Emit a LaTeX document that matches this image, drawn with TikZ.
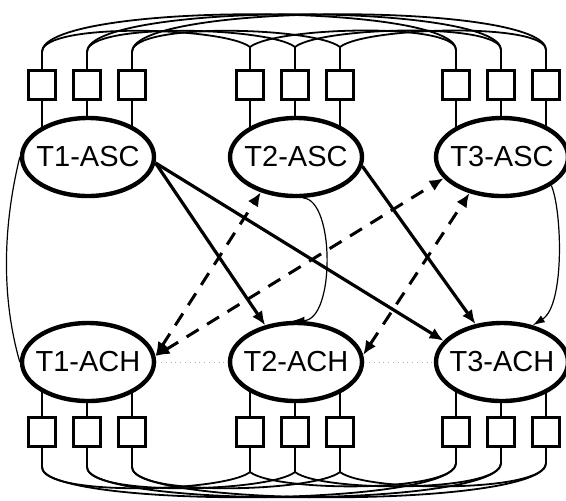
\documentclass[tikz,border=0pt]{standalone}
\usepackage{fontspec}
\setmainfont{Liberation Sans}
\usetikzlibrary{shapes,arrows,arrows.meta,positioning,calc}

\begin{document}
\begin{tikzpicture}[x=0.5pt,y=-0.5pt,
    agent/.style={draw,ellipse,fill=white,line width=2.2pt,minimum width=66pt,minimum height=39pt,inner xsep=-4pt,inner ysep=0pt,font=\fontsize{14.5}{17}\selectfont},
    port/.style={draw,rectangle,fill=white,line width=1.5pt,minimum width=13.5pt,minimum height=14.5pt,inner sep=0pt},
    wire/.style={line width=0.9pt},
    side/.style={line width=0.6pt},
    link/.style={line width=0.6pt,-{Latex[length=6pt,width=4pt]}},
    sends/.style={line width=1.6pt,-{Latex[length=7pt,width=6pt]}},
    asks/.style={line width=1.5pt,dash pattern=on 7pt off 5pt,{Latex[length=7pt,width=6pt]}-{Latex[length=7pt,width=6pt]}}]
    \useasboundingbox (0,0) rectangle (566,500);

    % Ports and their wires
    \foreach \t/\cx/\ty/\by in {1/88/52/467,2/296/47/472,3/502/50/463}{
        \foreach \k/\dx in {1/-46,2/-1,3/44}{
            \node[port] (up\t\k) at (\cx+\dx,85) {};
            \node[port] (dn\t\k) at (\cx+\dx,432) {};
            \coordinate (tu\t\k) at (\cx+\dx,\ty);
            \coordinate (td\t\k) at (\cx+\dx,\by);
            \draw[wire] (up\t\k.south) -- (\cx+\dx,157);
            \draw[wire] (dn\t\k.north) -- (\cx+\dx,362);
            \draw[wire] (up\t\k.north) -- (tu\t\k);
            \draw[wire] (dn\t\k.south) -- (td\t\k);
        }
    }

    % Bundles above and below
    \foreach \k in {1,2,3}{
        \draw[wire] (tu1\k) .. controls +(0,-30) and +(-25,-20) .. (tu2\k);
        \draw[wire] (tu2\k) .. controls +(25,-20) and +(0,-28) .. (tu3\k);
        \draw[wire] (tu1\k) .. controls +(0,-50) and +(0,-48) .. (tu3\k);
        \draw[wire] (td1\k) .. controls +(0,30) and +(-25,20) .. (td2\k);
        \draw[wire] (td2\k) .. controls +(25,20) and +(0,30) .. (td3\k);
        \draw[wire] (td1\k) .. controls +(0,41) and +(0,45) .. (td3\k);
    }

    % Agents
    \node[agent] (asc1) at (88,157) {T1-ASC};
    \node[agent] (asc2) at (296,157) {T2-ASC};
    \node[agent] (asc3) at (502,157) {T3-ASC};
    \node[agent] (ach1) at (88,362) {T1-ACH};
    \node[agent] (ach2) at (296,362) {T2-ACH};
    \node[agent] (ach3) at (502,362) {T3-ACH};

    % Side links
    \draw[side] (asc1.west) .. controls (2,230) and (2,300) .. (ach1.west);
    \draw[link] (asc2.-80) .. controls (335,200) and (335,320) .. (ach2.95);
    \draw[link] (asc3.-30) .. controls (562,210) and (565,305) .. (ach3.50);
    \draw[dotted,gray!60] (ach1) -- (ach2);
    \draw[dotted,gray!60] (ach2) -- (ach3);

    % Solid and dashed arrows
    \draw[sends] (asc1.-5) -- (ach2.130);
    \draw[sends] (asc1.-5) -- (ach3.160);
    \draw[sends] (asc2.-8) -- (ach3.125);
    \draw[asks] (ach1.5) -- (asc2.225);
    \draw[asks] (ach1.5) -- (asc3.200);
    \draw[asks] (ach2.6) -- (asc3.228);
\end{tikzpicture}
\end{document}
